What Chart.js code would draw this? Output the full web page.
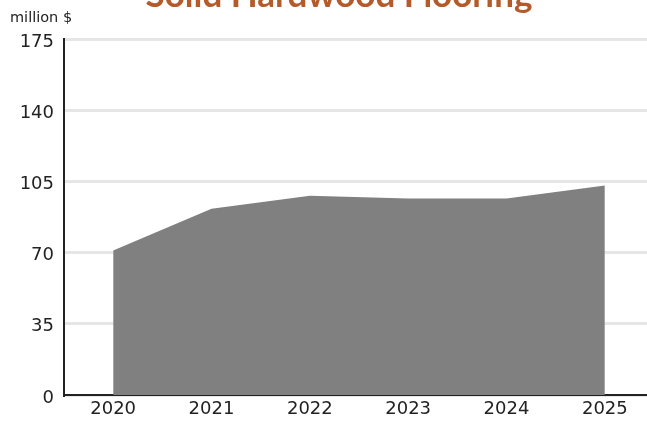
<!DOCTYPE html>
<html>
<head>
<meta charset="utf-8">
<script src="https://cdn.jsdelivr.net/npm/chart.js@4.4.1/dist/chart.umd.min.js"></script>
<style>
  html, body { margin: 0; padding: 0; background: #fff; overflow: hidden; }
  #wrap { position: relative; width: 656px; height: 421px; }
</style>
</head>
<body>
<div id="wrap"><canvas id="myChart"></canvas></div>
<script>
// chart data
let years = ["2020", "2021", "2022", "2023", "2024", "2025"];
let sales = [71, 91.5, 98, 96.6, 96.6, 103];
let yTicks = [0, 35, 70, 105, 140, 175];
let titleText = "Solid Hardwood Flooring";
let unitText = "million $";

let ctx = document.getElementById("myChart").getContext("2d");

// title is clipped at the top of the picture, so draw it by hand
let headerPlugin = {
  id: "header",
  afterDraw(chart) {
    let c = chart.ctx;
    c.save();
    c.fillStyle = "#b45a2b";
    c.font = "bold 35px Lato";
    c.textAlign = "center";
    c.textBaseline = "alphabetic";
    c.fillText(titleText, 339, 7);
    c.fillStyle = "#222";
    c.font = "14.5px 'DejaVu Sans'";
    c.textAlign = "left";
    c.fillText(unitText, 10, 22);
    c.restore();
  },
};

let myChart = new Chart(ctx, {
  type: "line",
  data: {
    labels: years,
    datasets: [
      {
        data: sales,
        fill: "origin",
        backgroundColor: "#808080",
        borderColor: "#808080",
        borderWidth: 0,
        pointRadius: 0,
        tension: 0,
      },
    ],
  },
  options: {
    responsive: true,
    maintainAspectRatio: false,
    animation: false,
    layout: { padding: { top: 39, right: 2, left: 0, bottom: 0 } },
    plugins: {
      legend: { display: false },
      tooltip: { enabled: false },
    },
    scales: {
      x: {
        offset: true,
        grid: { display: false, drawTicks: false },
        border: { display: true, color: "#222", width: 2 },
        ticks: {
          color: "#222",
          font: { family: "DejaVu Sans", size: 18 },
          padding: 4,
          maxRotation: 0,
        },
        afterFit: (scale) => { scale.height = 26; },
      },
      y: {
        min: 0,
        max: 175,
        afterBuildTicks: (scale) => {
          scale.ticks = yTicks.map((v) => ({ value: v }));
        },
        grid: { color: "#e6e6e6", lineWidth: 3, drawTicks: false },
        border: { display: true, color: "#222", width: 2 },
        ticks: {
          color: "#222",
          font: { family: "DejaVu Sans", size: 18 },
          padding: 10,
          labelOffset: 3,
        },
        afterFit: (scale) => { scale.width = 64; },
      },
    },
  },
  plugins: [headerPlugin],
});
</script>
</body>
</html>
